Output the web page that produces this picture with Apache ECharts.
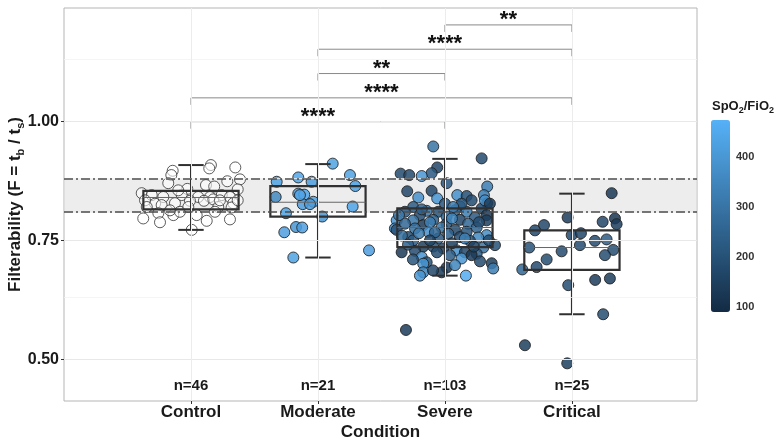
<!DOCTYPE html>
<html><head><meta charset="utf-8">
<script src="https://cdn.jsdelivr.net/npm/echarts@6/dist/echarts.min.js"></script>
<style>html,body{margin:0;padding:0;background:#fff}#c{width:780px;height:442px}</style>
</head><body><div id="c"></div>
<script>
const categories = ['Control','Moderate','Severe','Critical'];
const nCounts = [46,21,103,25];
const yLabelTicks = [0.50, 0.75, 1.00];
const yMinorGrid = [0.625, 0.875, 1.125];
const colorbarTicks = [100,200,300,400];
const spo2Range = [90, 474];
const refBand = [0.808, 0.878];
// [position, lowerWhisker, Q1, median, Q3, upperWhisker]
const boxStats = [
  [1, 0.772, 0.815, 0.840, 0.854, 0.908],
  [2, 0.714, 0.800, 0.830, 0.864, 0.910],
  [3, 0.676, 0.736, 0.777, 0.817, 0.921],
  [4, 0.595, 0.688, 0.735, 0.771, 0.848]
];
// [from, to, height, label]
const brackets = [
  [3, 4, 1.202, '**'],
  [2, 4, 1.151, '****'],
  [2, 3, 1.100, '**'],
  [1, 4, 1.049, '****'],
  [1, 3, 0.999, '****']
];
// [x (jittered), filterability]
const controlPts = [[1.157,0.908],[1.144,0.901],[1.349,0.903],[0.856,0.896],[0.845,0.887],[0.821,0.870],[1.286,0.874],[1.386,0.878],[1.118,0.866],[1.183,0.863],[1.368,0.857],[0.971,0.858],[0.612,0.849],[0.691,0.845],[0.782,0.841],[0.927,0.845],[1.057,0.841],[1.150,0.841],[1.242,0.845],[1.307,0.841],[0.717,0.827],[0.874,0.828],[0.992,0.833],[1.102,0.833],[1.176,0.836],[1.333,0.828],[0.638,0.834],[0.769,0.824],[1.215,0.820],[1.320,0.819],[0.743,0.807],[0.861,0.803],[0.913,0.810],[1.045,0.803],[1.189,0.810],[0.624,0.796],[0.756,0.788],[1.124,0.791],[1.307,0.794],[1.006,0.772],[0.900,0.855],[0.652,0.820],[0.835,0.813],[1.368,0.834],[0.979,0.820],[1.228,0.834]];
// [x (jittered), filterability, SpO2/FiO2]
const moderatePts = [[2.116,0.911,430],[1.845,0.882,440],[2.252,0.887,430],[1.675,0.873,430],[1.950,0.873,420],[2.294,0.864,430],[1.667,0.841,360],[1.845,0.848,420],[1.892,0.846,440],[1.880,0.826,420],[1.963,0.831,430],[1.937,0.826,410],[2.273,0.821,440],[1.748,0.807,430],[2.034,0.800,400],[1.827,0.778,400],[1.876,0.777,420],[1.735,0.767,420],[2.402,0.729,420],[1.806,0.714,430],[1.858,0.845,440]];
const severePts = [[2.908,0.947,300],[3.289,0.922,180],[2.939,0.903,170],[2.895,0.891,220],[2.651,0.890,180],[2.719,0.887,180],[2.817,0.885,400],[3.013,0.870,220],[3.333,0.863,330],[2.703,0.853,170],[2.895,0.854,170],[3.307,0.845,330],[3.097,0.845,380],[3.171,0.843,200],[2.790,0.840,380],[2.939,0.838,400],[3.210,0.834,190],[3.333,0.828,130],[3.000,0.827,220],[3.118,0.821,380],[2.750,0.820,230],[3.289,0.817,180],[3.079,0.813,250],[2.856,0.812,300],[2.685,0.810,220],[2.947,0.810,200],[3.171,0.810,330],[3.328,0.803,130],[2.803,0.803,180],[3.013,0.800,260],[3.236,0.798,220],[2.620,0.792,390],[2.750,0.792,300],[2.908,0.793,230],[3.118,0.793,170],[3.328,0.792,150],[2.685,0.785,260],[2.829,0.782,130],[3.013,0.785,200],[3.183,0.785,260],[2.606,0.775,330],[2.764,0.775,280],[2.974,0.777,300],[3.079,0.772,170],[3.250,0.777,250],[2.869,0.768,380],[3.171,0.768,210],[2.620,0.772,210],[3.026,0.764,250],[3.328,0.761,370],[2.711,0.757,190],[2.947,0.754,220],[3.118,0.757,180],[3.262,0.756,360],[2.750,0.750,230],[3.197,0.749,200],[3.394,0.740,200],[2.829,0.737,150],[2.908,0.737,200],[2.987,0.733,170],[3.302,0.735,300],[2.659,0.725,130],[2.764,0.728,180],[3.092,0.729,380],[3.157,0.725,170],[3.250,0.722,230],[2.817,0.715,390],[3.131,0.712,400],[3.210,0.719,130],[2.856,0.704,200],[2.829,0.701,400],[3.368,0.702,150],[3.380,0.691,330],[3.013,0.693,130],[2.974,0.683,140],[2.829,0.683,350],[2.803,0.676,400],[3.165,0.676,460],[2.693,0.562,140],[3.315,0.834,380],[3.354,0.827,150],[3.131,0.827,210],[3.065,0.820,330],[2.817,0.815,250],[2.638,0.803,320],[2.882,0.788,330],[3.055,0.796,350],[3.268,0.788,190],[2.661,0.760,280],[2.795,0.765,320],[2.921,0.767,260],[3.157,0.754,340],[3.346,0.750,180],[2.882,0.750,170],[3.055,0.744,150],[2.709,0.741,250],[3.228,0.737,160],[2.937,0.725,190],[3.039,0.719,230],[2.748,0.710,210],[3.276,0.706,180],[3.079,0.698,350],[2.906,0.687,170]];
const criticalPts = [[4.313,0.849,130],[3.966,0.798,140],[4.339,0.796,120],[3.780,0.782,170],[4.242,0.789,170],[4.352,0.784,140],[3.709,0.771,170],[3.998,0.761,180],[4.071,0.765,170],[4.181,0.749,180],[4.273,0.752,230],[3.664,0.735,200],[4.063,0.740,180],[4.325,0.730,190],[3.919,0.727,180],[4.260,0.719,190],[3.801,0.710,190],[3.722,0.694,180],[3.609,0.689,260],[3.971,0.656,190],[4.183,0.667,140],[4.299,0.670,140],[4.246,0.595,190],[3.630,0.530,150],[3.963,0.492,150]];

const FONT = 'Liberation Sans, Arial, sans-serif';
const TXT = '#1a1a1a';
const BOX_W = 0.75, CAP_W = 0.2, N_LABEL_Y = 0.445;

const chart = echarts.init(document.getElementById('c'));
const pointSeries = (name, data) => ({
  name, type: 'scatter', data, symbolSize: 11, z: 3,
  encode: {x: 0, y: 1},
  itemStyle: {borderColor: '#1f1f1f', borderWidth: 1, opacity: 0.85}
});
chart.setOption({
  animation: false,
  textStyle: {fontFamily: FONT},
  title: {
    text: 'SpO{s|2}/FiO{s|2}', left: 707, top: 93,
    textStyle: {fontSize: 13, fontWeight: 'bold', color: TXT, fontFamily: FONT, lineHeight: 17,
      rich: {s: {fontSize: 9, fontWeight: 'bold', color: TXT, fontFamily: FONT, lineHeight: 10, verticalAlign: 'bottom'}}}
  },
  grid: [
    {left: 64, top: 8, width: 633, height: 393, show: true, borderColor: '#b5b5b5', borderWidth: 1,
      outerBoundsMode: 'none', containLabel: false},
    {left: 711, top: 120, width: 19, height: 192, show: false, outerBoundsMode: 'none', containLabel: false}
  ],
  xAxis: [{
    type: 'value', min: 0, max: 4.985,
    axisLine: {show: false}, splitLine: {show: false},
    axisTick: {show: true, customValues: [1,2,3,4], length: 3, lineStyle: {color: '#333'}},
    axisLabel: {customValues: [1,2,3,4], formatter: v => categories[Math.round(v) - 1],
      fontSize: 17, fontWeight: 'bold', color: TXT, margin: 3, fontFamily: FONT},
    name: 'Condition', nameLocation: 'middle', nameGap: 23, nameMoveOverlap: false,
    nameTextStyle: {fontSize: 17, fontWeight: 'bold', color: TXT, fontFamily: FONT}
  }, {gridIndex: 1, type: 'value', show: false, min: 0, max: 1}],
  yAxis: [{
    type: 'value', min: 0.413, max: 1.2375,
    axisLine: {show: false}, splitLine: {show: false},
    axisTick: {show: true, customValues: yLabelTicks, length: 3, lineStyle: {color: '#333'}},
    axisLabel: {customValues: yLabelTicks, formatter: v => v.toFixed(2),
      fontSize: 16, fontWeight: 'bold', color: TXT, margin: 5, fontFamily: FONT},
    name: 'Filterability (F = t{sub|b} / t{sub|s})', nameLocation: 'middle', nameGap: 38, nameRotate: 90,
    nameMoveOverlap: false,
    nameTextStyle: {fontSize: 17, fontWeight: 'bold', color: TXT, fontFamily: FONT, lineHeight: 22,
      rich: {sub: {fontSize: 11, fontWeight: 'bold', color: TXT, fontFamily: FONT, lineHeight: 12, verticalAlign: 'bottom'}}}
  }, {
    gridIndex: 1, type: 'value', min: spo2Range[0], max: spo2Range[1], position: 'right',
    axisLine: {show: false}, splitLine: {show: false},
    axisTick: {show: true, inside: true, customValues: colorbarTicks, length: 4, lineStyle: {color: '#fff', width: 1}},
    axisLabel: {customValues: colorbarTicks, fontSize: 11, fontWeight: 'bold', color: '#333', margin: 6, fontFamily: FONT}
  }],
  visualMap: {
    type: 'continuous', min: spo2Range[0], max: spo2Range[1], dimension: 2,
    seriesIndex: [3, 4, 5], inRange: {color: ['#132B43', '#56B1F7']},
    left: 711, top: 120, itemWidth: 19, itemHeight: 192, padding: 0,
    calculable: false, hoverLink: false, text: null, showLabel: false
  },
  series: [
    {
      name: 'grid', type: 'scatter', data: [], z: 0, silent: true,
      markLine: {
        silent: true, symbol: ['none', 'none'], label: {show: false},
        data: [
          ...yLabelTicks.map(v => ({yAxis: v, lineStyle: {color: '#e8e8e8', width: 1, type: 'solid'}})),
          ...yMinorGrid.map(v => ({yAxis: v, lineStyle: {color: '#f3f3f3', width: 0.8, type: 'solid'}})),
          ...[1,2,3,4].map(v => ({xAxis: v, lineStyle: {color: '#ececec', width: 1, type: 'solid'}}))
        ]
      }
    },
    {
      name: 'band', type: 'scatter', data: [], z: 1, silent: true,
      markArea: {silent: true, itemStyle: {color: 'rgba(225,225,225,0.6)'},
        data: [[{yAxis: refBand[0]}, {yAxis: refBand[1]}]]},
      markLine: {
        silent: true, symbol: ['none', 'none'], label: {show: false},
        lineStyle: {color: '#4d4d4d', width: 1.6, type: [9, 3, 2, 3]},
        data: refBand.map(v => ({yAxis: v}))
      }
    },
    {
      name: 'Control', type: 'scatter', data: controlPts, symbolSize: 11, z: 3,
      itemStyle: {color: 'rgba(255,255,255,0.7)', borderColor: '#333', borderWidth: 1}
    },
    pointSeries('Moderate', moderatePts),
    pointSeries('Severe', severePts),
    pointSeries('Critical', criticalPts),
    {
      name: 'box', type: 'custom', data: boxStats, z: 4, silent: true,
      encode: {x: 0, y: [1, 2, 3, 4, 5]},
      renderItem: (params, api) => {
        const x = api.value(0);
        const lo = api.coord([x, api.value(1)]);
        const q1 = api.coord([x, api.value(2)]);
        const md = api.coord([x, api.value(3)]);
        const q3 = api.coord([x, api.value(4)]);
        const hi = api.coord([x, api.value(5)]);
        const bw = api.size([BOX_W, 0])[0];
        const cw = api.size([CAP_W, 0])[0];
        const cx = lo[0];
        const st = {stroke: '#303030', lineWidth: 2};
        return {type: 'group', children: [
          {type: 'line', shape: {x1: cx, y1: hi[1], x2: cx, y2: lo[1]}, style: st},
          {type: 'line', shape: {x1: cx - cw / 2, y1: hi[1], x2: cx + cw / 2, y2: hi[1]}, style: st},
          {type: 'line', shape: {x1: cx - cw / 2, y1: lo[1], x2: cx + cw / 2, y2: lo[1]}, style: st},
          {type: 'rect', shape: {x: cx - bw / 2, y: q3[1], width: bw, height: q1[1] - q3[1]},
            style: {fill: 'none', stroke: '#303030', lineWidth: 2.2}},
          {type: 'line', shape: {x1: cx - bw / 2, y1: md[1], x2: cx + bw / 2, y2: md[1]},
            style: {stroke: '#666', lineWidth: 1}}
        ]};
      }
    },
    {
      name: 'brackets', type: 'custom', data: brackets, z: 4, silent: true,
      encode: {x: [0, 1], y: 2},
      renderItem: (params, api) => {
        const b = brackets[params.dataIndex];
        const p1 = api.coord([b[0], b[2]]);
        const p2 = api.coord([b[1], b[2]]);
        return {type: 'group', children: [
          {type: 'polyline', shape: {points: [[p1[0], p1[1] + 7], p1, p2, [p2[0], p2[1] + 7]]},
            style: {stroke: '#8a8a8a', lineWidth: 1, fill: 'none'}},
          {type: 'text', x: (p1[0] + p2[0]) / 2, y: p1[1] - 5,
            style: {text: b[3], fontSize: 22, fontWeight: 'bold', fontFamily: FONT, fill: '#111',
              align: 'center', verticalAlign: 'middle'}}
        ]};
      }
    },
    {
      name: 'n', type: 'custom', data: nCounts.map((n, i) => [i + 1, N_LABEL_Y, n]), z: 4, silent: true,
      encode: {x: 0, y: 1},
      renderItem: (params, api) => {
        const p = api.coord([api.value(0), api.value(1)]);
        return {type: 'text', x: p[0], y: p[1],
          style: {text: 'n=' + api.value(2), fontSize: 15, fontWeight: 'bold', fontFamily: FONT, fill: TXT,
            align: 'center', verticalAlign: 'middle'}};
      }
    }
  ]
});
</script></body></html>
